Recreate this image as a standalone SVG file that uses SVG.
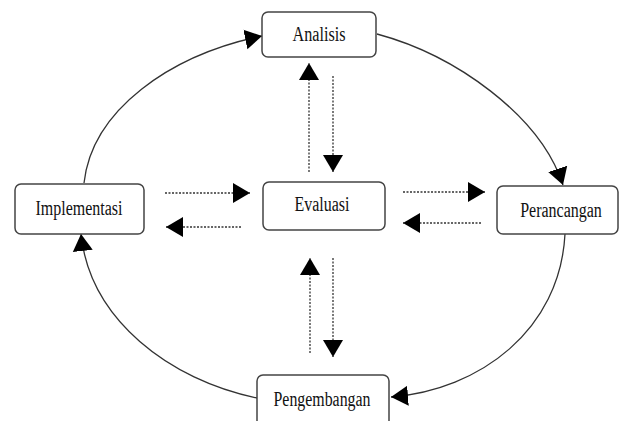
<svg xmlns="http://www.w3.org/2000/svg" width="619" height="421" viewBox="0 0 619 421">
<style>
.box{fill:#fff;stroke:#444;stroke-width:1.5}
.lbl{font-family:"Liberation Serif","Times New Roman",serif;font-size:20px;fill:#111;text-anchor:middle}
.cyc{fill:none;stroke:#333;stroke-width:1.3}
.dot{fill:none;stroke:#333;stroke-width:1.3;stroke-dasharray:2 1.5}
</style>
<defs>
<marker id="ah" markerUnits="userSpaceOnUse" markerWidth="18" markerHeight="22" refX="17" refY="11" orient="auto" viewBox="0 0 18 22">
<path d="M0,1 L17,11 L0,21 z" fill="#000"/>
</marker>
</defs>
<rect width="619" height="421" fill="#fff"/>
<g id="connectors">
<path class="cyc" d="M84,183 C92,110 170,55 262,36" marker-end="url(#ah)"/>
<path class="cyc" d="M377,34 C455,55 540,115 563,185" marker-end="url(#ah)"/>
<path class="cyc" d="M565,234 C560,330 480,390 391,397" marker-end="url(#ah)"/>
<path class="cyc" d="M257,398 C170,380 90,320 81,234" marker-end="url(#ah)"/>
<path class="dot" d="M309,172 L309,63" marker-end="url(#ah)"/>
<path class="dot" d="M333,76 L333,172" marker-end="url(#ah)"/>
<path class="dot" d="M310,353 L310,258" marker-end="url(#ah)"/>
<path class="dot" d="M333,258 L333,357" marker-end="url(#ah)"/>
<path class="dot" d="M165,193 L250,193" marker-end="url(#ah)"/>
<path class="dot" d="M241,227 L166,227" marker-end="url(#ah)"/>
<path class="dot" d="M403,192 L485,192" marker-end="url(#ah)"/>
<path class="dot" d="M481,223 L403,223" marker-end="url(#ah)"/>
</g>
<g id="analisis">
<rect class="box" x="262" y="12" width="114" height="45" rx="6"/>
<text class="lbl" x="319" y="41" textLength="53" lengthAdjust="spacingAndGlyphs">Analisis</text>
</g>
<g id="implementasi">
<rect class="box" x="15" y="184" width="129" height="50" rx="6"/>
<text class="lbl" x="79" y="215" textLength="87" lengthAdjust="spacingAndGlyphs">Implementasi</text>
</g>
<g id="evaluasi">
<rect class="box" x="263" y="182" width="122" height="48" rx="6"/>
<text class="lbl" x="322" y="211" textLength="55" lengthAdjust="spacingAndGlyphs">Evaluasi</text>
</g>
<g id="perancangan">
<rect class="box" x="497" y="186" width="121" height="48" rx="6"/>
<text class="lbl" transform="translate(561,217) scale(0.8,1)" x="0" y="0">Perancangan</text>
</g>
<g id="pengembangan">
<rect class="box" x="257" y="375" width="132" height="56" rx="6"/>
<text class="lbl" x="322" y="406" textLength="97" lengthAdjust="spacingAndGlyphs">Pengembangan</text>
</g>
</svg>
